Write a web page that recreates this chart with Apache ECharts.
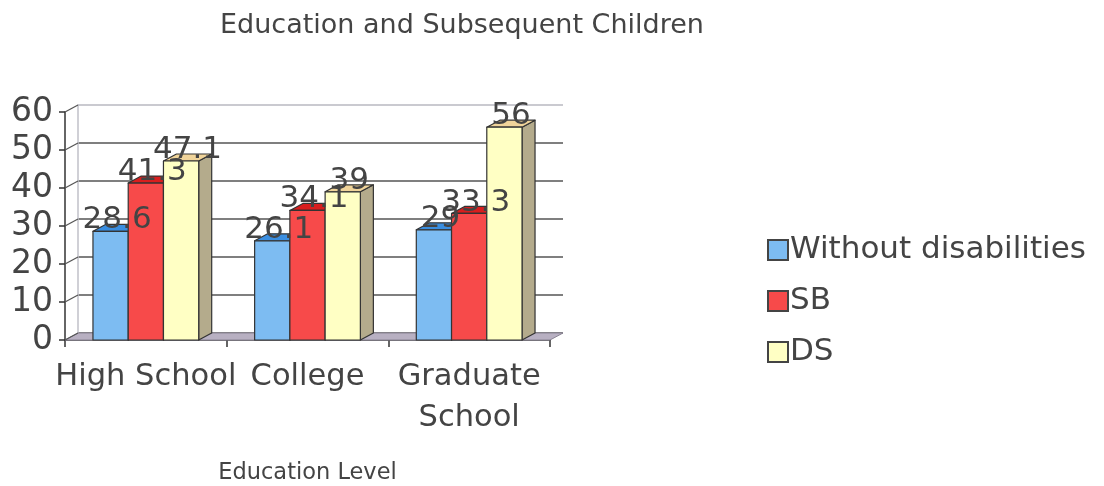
<!DOCTYPE html>
<html><head><meta charset="utf-8">
<script src="https://cdn.jsdelivr.net/npm/echarts@6/dist/echarts.min.js"></script>
<style>html,body{margin:0;padding:0;background:#fff}#c{width:1104px;height:486px}</style>
</head><body><div id="c"></div>
<script>
const categories = ['High School', 'College', 'Graduate\nSchool'];
const withoutDisabilities = [28.6, 26.1, 29];
const sb = [41.3, 34.1, 33.3];
const ds = [47.1, 39, 56];
const yTicks = [0, 10, 20, 30, 40, 50, 60];
const seriesNames = ['Without disabilities', 'SB', 'DS'];

const DX = 13, DY = 7;
const FONT = '"DejaVu Sans", sans-serif';
const TXT = '#444';

const palette = [
  {front: '#7dbcf2', top: '#3a8ee0', side: '#4a90d0'},
  {front: '#f74a4a', top: '#d81e1e', side: '#b02020'},
  {front: '#ffffc4', top: '#f0d49a', side: '#b4ab8c'}
];

function barSeries(si, values) {
  const p = palette[si];
  return {
    type: 'custom', name: seriesNames[si], xAxisIndex: 0, yAxisIndex: 0,
    itemStyle: {color: p.front, borderColor: '#444', borderWidth: 1.5},
    data: values.map((v, i) => [i, v]),
    encode: {x: 0, y: 1},
    renderItem: function (params, api) {
      const ci = api.value(0), v = api.value(1);
      const top = api.coord([ci, v]);
      const base = api.coord([ci, 0]);
      const band = api.size([1, 0])[0];
      const bw = band * 0.218;
      const x0 = top[0] - 1.5 * bw + si * bw;
      const yT = top[1], yB = base[1];
      const st = {stroke: '#333', lineWidth: 1.2, lineJoin: 'round'};
      return {
        type: 'group',
        children: [
          {type: 'polygon', z2: si * 10 + 1,
           shape: {points: [[x0 + bw, yT], [x0 + bw + DX, yT - DY], [x0 + bw + DX, yB - DY], [x0 + bw, yB]]},
           style: Object.assign({fill: p.side}, st)},
          {type: 'polygon', z2: si * 10 + 2,
           shape: {points: [[x0, yT], [x0 + DX, yT - DY], [x0 + bw + DX, yT - DY], [x0 + bw, yT]]},
           style: Object.assign({fill: p.top}, st)},
          {type: 'rect', z2: si * 10 + 3,
           shape: {x: x0, y: yT, width: bw, height: yB - yT},
           style: Object.assign({fill: p.front}, st)},
          {type: 'text', z2: 100,
           style: {x: x0 + bw / 2 + DX / 2, y: yT - 11, text: String(v), align: 'center', verticalAlign: 'middle',
                   font: '31px ' + FONT, fill: TXT}}
        ]
      };
    }
  };
}

const frameSeries = {
  type: 'custom', name: 'frame', xAxisIndex: 0, yAxisIndex: 0, silent: true,
  data: yTicks.map(t => [0, t]),
  encode: {x: 0, y: 1},
  renderItem: function (params, api) {
    const cs = params.coordSys;
    const y = api.coord([0, api.value(1)])[1];
    const children = [
      {type: 'line', z2: -5, shape: {x1: cs.x, y1: y, x2: cs.x + DX, y2: y - DY},
       style: {stroke: '#555', lineWidth: 1.2}}
    ];
    if (params.dataIndex === 0) {
      const yb = cs.y + cs.height;
      children.push({type: 'polygon', z2: -10,
        shape: {points: [[cs.x, yb], [cs.x + DX, yb - DY], [cs.x + cs.width + DX, yb - DY], [cs.x + cs.width, yb]]},
        style: {fill: '#b8b0c2', stroke: '#8a8494', lineWidth: 1}});
    }
    return {type: 'group', children: children};
  }
};

const chart = echarts.init(document.getElementById('c'), null, {renderer: 'canvas'});
chart.setOption({
  animation: false,
  backgroundColor: '#fff',
  title: {text: 'Education and Subsequent Children', left: 215, top: 7,
    textStyle: {fontFamily: FONT, fontSize: 27, fontWeight: 'normal', color: TXT}},
  legend: {
    orient: 'vertical', left: 762, top: 228, icon: 'rect', itemWidth: 20, itemHeight: 20, itemGap: 17,
    data: seriesNames,
    textStyle: {fontFamily: FONT, fontSize: 31, color: TXT, lineHeight: 34, padding: [0, 0, 0, -3]}
  },
  grid: [
    {left: 65, top: 112, width: 485, height: 228},
    {left: 65 + DX, top: 112 - DY, width: 485, height: 228}
  ],
  xAxis: [
    {type: 'category', gridIndex: 0, data: categories, boundaryGap: true,
     axisLine: {lineStyle: {color: '#333', width: 1.5}},
     axisTick: {show: true, length: 7, alignWithLabel: false, lineStyle: {color: '#333', width: 1.5}},
     axisLabel: {fontFamily: FONT, fontSize: 30.5, color: TXT, lineHeight: 41, margin: 17, interval: 0},
     name: 'Education Level', nameLocation: 'middle', nameGap: 122,
     nameTextStyle: {fontFamily: FONT, fontSize: 22.5, color: TXT}},
    {type: 'category', gridIndex: 1, data: categories, show: false}
  ],
  yAxis: [
    {type: 'value', gridIndex: 0, min: 0, max: 60, interval: 10,
     axisLine: {show: true, lineStyle: {color: '#333', width: 1.5}},
     axisTick: {show: true, length: 6, lineStyle: {color: '#333', width: 1.5}},
     axisLabel: {fontFamily: FONT, fontSize: 33, color: TXT, margin: 12},
     splitLine: {show: false}},
    {type: 'value', gridIndex: 1, min: 0, max: 60, interval: 10,
     axisLine: {show: true, lineStyle: {color: '#c0c0c8', width: 1.5}},
     axisTick: {show: false}, axisLabel: {show: false},
     splitLine: {show: true, lineStyle: {color: ['#555', '#555', '#555', '#555', '#555', '#555', '#b8b8c0'], width: 1.5}}}
  ],
  series: [frameSeries, barSeries(0, withoutDisabilities), barSeries(1, sb), barSeries(2, ds)]
});
</script></body></html>
